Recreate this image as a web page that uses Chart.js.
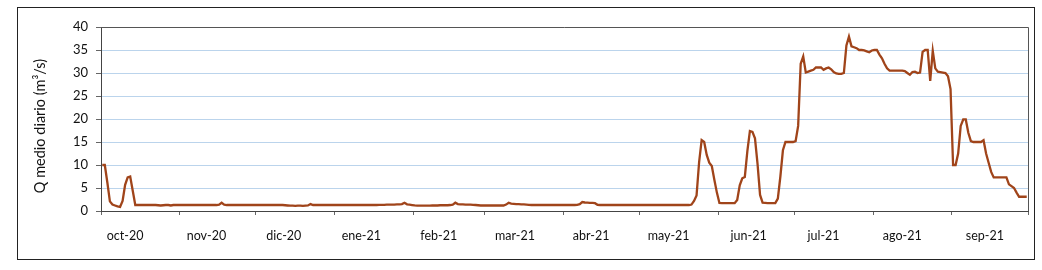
<!DOCTYPE html>
<html>
<head>
<meta charset="utf-8">
<script src="https://cdn.jsdelivr.net/npm/chart.js@4.4.0/dist/chart.umd.min.js"></script>
<style>
  html, body { margin: 0; padding: 0; background: #fff; }
</style>
</head>
<body>
<canvas id="myChart" width="1042" height="270"></canvas>
<script>
// month labels and where they sit on the day axis
const months = ["oct-20", "nov-20", "dic-20", "ene-21", "feb-21", "mar-21",
                "abr-21", "may-21", "jun-21", "jul-21", "ago-21", "sep-21"]
const monthLabelDays = [9.5, 41.5, 72, 102.5, 133, 163, 193, 223.5, 255, 284.5, 315.5, 348]

// daily mean flow, m3/s, one array per month
const oct20 = [10.0, 10.0, 6.2, 2.1, 1.4, 1.2, 1.0, 0.9, 2.2, 5.7, 7.3, 7.5, 4.4, 1.3, 1.3, 1.3,
               1.3, 1.3, 1.3, 1.3, 1.3, 1.3, 1.25, 1.2, 1.25, 1.3, 1.3, 1.2, 1.3, 1.3, 1.3]
const nov20 = [1.3, 1.3, 1.3, 1.3, 1.3, 1.3, 1.3, 1.3, 1.3, 1.3, 1.3, 1.3, 1.3, 1.3, 1.3,
               1.4, 1.8, 1.4, 1.3, 1.3, 1.3, 1.3, 1.3, 1.3, 1.3, 1.3, 1.3, 1.3, 1.3, 1.3]
const dic20 = [1.3, 1.3, 1.3, 1.3, 1.3, 1.3, 1.3, 1.3, 1.3, 1.3, 1.3, 1.25, 1.2, 1.15, 1.15, 1.1,
               1.15, 1.15, 1.1, 1.15, 1.2, 1.5, 1.3, 1.3, 1.3, 1.3, 1.3, 1.3, 1.3, 1.3, 1.3]
const ene21 = [1.3, 1.3, 1.3, 1.3, 1.3, 1.3, 1.3, 1.3, 1.3, 1.3, 1.3, 1.3, 1.3, 1.3, 1.3, 1.3,
               1.3, 1.35, 1.35, 1.35, 1.4, 1.4, 1.4, 1.4, 1.45, 1.45, 1.5, 1.8, 1.45, 1.4, 1.3]
const feb21 = [1.2, 1.15, 1.15, 1.15, 1.15, 1.15, 1.15, 1.2, 1.2, 1.2, 1.25, 1.25, 1.25, 1.25,
               1.3, 1.4, 1.8, 1.5, 1.45, 1.45, 1.4, 1.4, 1.4, 1.35, 1.3, 1.25, 1.2, 1.2]
const mar21 = [1.2, 1.2, 1.2, 1.2, 1.2, 1.2, 1.2, 1.2, 1.4, 1.8, 1.6, 1.55, 1.5, 1.5, 1.45, 1.45,
               1.4, 1.35, 1.3, 1.3, 1.3, 1.3, 1.3, 1.3, 1.3, 1.3, 1.3, 1.3, 1.3, 1.3, 1.3]
const abr21 = [1.3, 1.3, 1.3, 1.3, 1.3, 1.35, 1.5, 1.95, 1.85, 1.8, 1.75, 1.75, 1.7, 1.35, 1.3,
               1.3, 1.3, 1.3, 1.3, 1.3, 1.3, 1.3, 1.3, 1.3, 1.3, 1.3, 1.3, 1.3, 1.3, 1.3]
const may21 = [1.3, 1.3, 1.3, 1.3, 1.3, 1.3, 1.3, 1.3, 1.3, 1.3, 1.3, 1.3, 1.3, 1.3, 1.3, 1.3,
               1.3, 1.3, 1.3, 1.3, 1.4, 2.2, 3.4, 10.6, 15.4, 15.0, 12.2, 10.5, 9.8, 6.8, 4.0]
const jun21 = [1.75, 1.7, 1.7, 1.7, 1.7, 1.7, 1.7, 2.4, 5.6, 7.1, 7.4, 13.0, 17.4, 17.2, 15.8,
               10.3, 3.5, 1.8, 1.75, 1.7, 1.7, 1.7, 1.7, 2.7, 7.5, 13.2, 15.0, 15.0, 15.0, 15.0]
const jul21 = [15.2, 18.5, 32.0, 33.6, 30.1, 30.3, 30.5, 30.7, 31.2, 31.2, 31.2, 30.7, 31.0, 31.2,
               30.8, 30.2, 29.9, 29.8, 29.8, 30.0, 36.0, 37.9, 35.8, 35.6, 35.4, 35.0, 35.0, 34.9,
               34.7, 34.5, 34.9]
const ago21 = [35.0, 35.0, 34.0, 33.2, 32.0, 31.0, 30.5, 30.5, 30.5, 30.5, 30.5, 30.5, 30.4, 30.0,
               29.6, 30.2, 30.3, 30.0, 30.1, 34.6, 35.0, 35.0, 28.3, 34.8, 31.0, 30.3, 30.2, 30.1,
               30.0, 29.3, 26.5]
const sep21 = [10.0, 10.0, 12.5, 18.5, 19.9, 19.9, 17.0, 15.2, 15.0, 15.0, 15.0, 15.0, 15.4, 12.5,
               10.5, 8.5, 7.3, 7.3, 7.3, 7.3, 7.3, 7.3, 5.8, 5.4, 5.0, 4.0, 3.1, 3.1, 3.1, 3.1]

const yTicks = { min: 0, max: 40, step: 5 }

const monthData = [oct20, nov20, dic20, ene21, feb21, mar21, abr21, may21, jun21, jul21, ago21, sep21]
const flow = [].concat(...monthData)

// month boundaries in day units
const monthStarts = [0]
monthData.forEach(m => monthStarts.push(monthStarts[monthStarts.length - 1] + m.length))
const nDays = flow.length

const points = flow.map((v, i) => ({ x: i + 0.5, y: v }))

const FONT = 'Lato, "Open Sans", sans-serif'

// white page, outer frame, plot border and the rotated y title
const framePlugin = {
  id: 'frame',
  beforeDraw(chart) {
    const c = chart.ctx
    c.save()
    c.fillStyle = '#fff'
    c.fillRect(0, 0, chart.width, chart.height)
    c.restore()
  },
  beforeDatasetsDraw(chart) {
    const c = chart.ctx
    const a = chart.chartArea
    c.save()
    c.strokeStyle = '#555'
    c.lineWidth = 1
    c.beginPath()
    c.moveTo(a.left, a.top + 0.5)
    c.lineTo(a.right + 0.5, a.top + 0.5)
    c.lineTo(a.right + 0.5, a.bottom)
    c.stroke()
    c.restore()
  },
  afterDraw(chart) {
    const c = chart.ctx
    c.save()
    c.strokeStyle = '#222'
    c.lineWidth = 1
    c.strokeRect(17.5, 7.5, 1017, 252)
    c.translate(40, 126)
    c.rotate(-Math.PI / 2)
    c.fillStyle = '#111'
    c.font = '14.5px ' + FONT
    c.textAlign = 'center'
    c.textBaseline = 'middle'
    c.fillText('Q medio diario (m\u00b3/s)', 0, 0)
    c.restore()
  }
}

const ctx = document.getElementById('myChart').getContext('2d')
const myChart = new Chart(ctx, {
  type: 'line',
  data: {
    datasets: [{
      label: 'Q medio diario',
      data: points,
      borderColor: '#A0441A',
      borderWidth: 2.3,
      pointRadius: 0,
      tension: 0,
      fill: false
    }]
  },
  options: {
    responsive: false,
    devicePixelRatio: 1,
    animation: false,
    layout: { padding: { left: 0, top: 27, right: 14, bottom: 12 } },
    plugins: { legend: { display: false }, tooltip: { enabled: false } },
    scales: {
      y: {
        min: yTicks.min,
        max: yTicks.max,
        ticks: { stepSize: yTicks.step, padding: 8, color: '#111', font: { family: FONT, size: 13 } },
        grid: {
          color: c => (c.tick.value === yTicks.min || c.tick.value === yTicks.max) ? 'rgba(0,0,0,0)' : '#BBD4EC',
          tickColor: '#666',
          tickLength: 5
        },
        border: { color: '#444' },
        afterFit: s => { s.width = 101 }
      },
      x: {
        type: 'linear',
        min: 0,
        max: nDays,
        afterBuildTicks: s => { s.ticks = monthStarts.map(v => ({ value: v })) },
        ticks: { display: false },
        grid: { drawOnChartArea: false, drawTicks: true, tickLength: 4, tickColor: '#666' },
        border: { color: '#444' },
        afterFit: s => { s.height = 4 }
      },
      x2: {
        type: 'linear',
        position: 'bottom',
        min: 0,
        max: nDays,
        afterBuildTicks: s => { s.ticks = monthLabelDays.map(v => ({ value: v })) },
        ticks: {
          autoSkip: false,
          maxRotation: 0,
          padding: 13,
          color: '#111',
          font: { family: FONT, size: 12.5 },
          callback: (v, i) => months[i]
        },
        grid: { display: false, drawTicks: false },
        border: { display: false },
        afterFit: s => { s.height = 43 }
      }
    }
  },
  plugins: [framePlugin]
})
</script>
</body>
</html>
